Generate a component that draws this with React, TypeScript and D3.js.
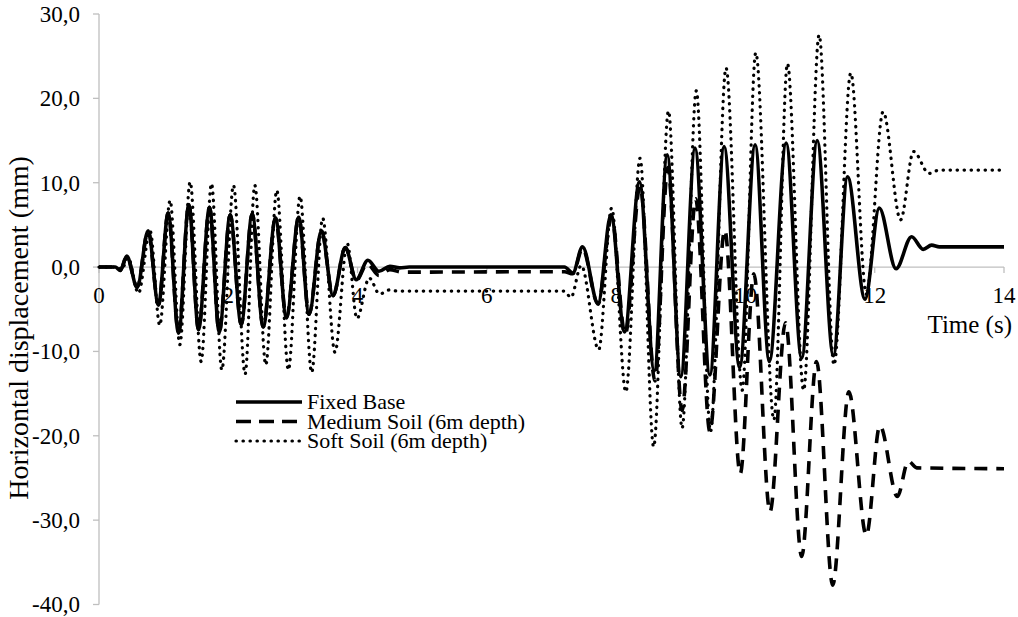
import React from "react";
import * as d3 from "d3";

// Time histories: [time (s), horizontal displacement (mm)] at turning points
const fixedBase: [number, number][] = [
  [0, 0], [0.25, 0], [0.33, -0.4], [0.43, 1.3], [0.59, -2.4], [0.76, 4.3], [0.92, -4.5],
  [1.07, 6.4], [1.23, -7.8], [1.39, 7.4], [1.54, -7.4], [1.71, 7.1], [1.86, -7.7],
  [2.03, 6.2], [2.2, -6.8], [2.37, 6.3], [2.54, -7.1], [2.73, 5.8], [2.9, -6.0],
  [3.09, 5.9], [3.25, -5.6], [3.44, 4.3], [3.62, -3.4], [3.81, 2.3], [3.98, -1.5],
  [4.16, 0.8], [4.33, -0.5], [4.5, 0.1], [4.65, -0.1], [4.8, 0], [7.2, 0],
  [7.33, -0.7], [7.48, 2.4], [7.72, -4.3], [7.92, 6.2], [8.13, -7.7], [8.36, 10.1],
  [8.59, -12.3], [8.79, 13.3], [9.0, -13.0], [9.22, 14.1], [9.45, -12.8], [9.67, 14.3],
  [9.91, -11.9], [10.15, 14.5], [10.37, -11.2], [10.63, 14.7], [10.87, -10.8],
  [11.11, 15.0], [11.36, -10.5], [11.58, 10.7], [11.85, -3.8], [12.07, 7.0],
  [12.33, -0.2], [12.57, 3.6], [12.75, 2.1], [12.88, 2.6], [13.0, 2.4], [14, 2.4],
];

const mediumSoil: [number, number][] = [
  [0, 0], [0.25, 0], [0.33, -0.4], [0.43, 1.3], [0.59, -2.4], [0.76, 4.3], [0.92, -4.5],
  [1.07, 6.4], [1.23, -7.8], [1.39, 7.4], [1.54, -7.4], [1.71, 7.1], [1.86, -7.7],
  [2.03, 6.2], [2.2, -6.8], [2.37, 6.3], [2.54, -7.1], [2.73, 5.8], [2.9, -6.0],
  [3.09, 5.9], [3.25, -5.6], [3.44, 4.3], [3.62, -3.4], [3.81, 2.3], [3.98, -1.6],
  [4.15, 0.4], [4.33, -1.0], [4.5, -0.3], [4.68, -0.6], [7.2, -0.55],
  [7.33, -0.8], [7.48, 2.2], [7.72, -4.4], [7.93, 5.9], [8.14, -8.0], [8.37, 9.6],
  [8.6, -13.5], [8.8, 11.8], [9.02, -17.0], [9.23, 8.1], [9.45, -19.5], [9.68, 4.4],
  [9.92, -24.5], [10.13, -0.8], [10.38, -29.0], [10.62, -6.6], [10.87, -34.3],
  [11.1, -11.2], [11.35, -37.7], [11.6, -14.8], [11.87, -31.8], [12.08, -18.8],
  [12.35, -27.2], [12.52, -23.0], [12.65, -23.8], [14, -23.9],
];

const softSoil: [number, number][] = [
  [0, 0], [0.27, 0], [0.35, -0.3], [0.45, 1.1], [0.61, -3.1], [0.79, 4.3], [0.94, -6.9],
  [1.1, 7.9], [1.25, -9.2], [1.41, 10.1], [1.58, -11.2], [1.74, 9.9], [1.9, -12.2],
  [2.08, 9.7], [2.26, -12.7], [2.41, 9.7], [2.58, -11.6], [2.75, 9.1], [2.93, -12.2],
  [3.11, 8.4], [3.29, -12.5], [3.46, 5.8], [3.65, -10.1], [3.84, 2.8], [3.99, -6.1],
  [4.18, -1.3], [4.34, -3.2], [4.5, -2.7], [4.62, -2.85], [7.2, -2.85],
  [7.3, -3.6], [7.46, 0.2], [7.73, -9.8], [7.93, 7.0], [8.15, -14.8], [8.37, 12.9],
  [8.58, -21.3], [8.81, 18.5], [9.02, -19.1], [9.24, 20.9], [9.46, -19.5], [9.7, 23.6],
  [9.95, -14.6], [10.16, 25.4], [10.44, -18.1], [10.65, 24.1], [10.9, -14.6],
  [11.14, 27.5], [11.37, -11.6], [11.63, 23.0], [11.87, -3.2], [12.13, 18.4],
  [12.4, 5.6], [12.6, 13.7], [12.84, 11.1], [13.0, 11.5], [14, 11.5],
];

const seriesNames = ["Fixed Base", "Medium Soil (6m depth)", "Soft Soil (6m depth)"];
const xTicks = [0, 2, 4, 6, 8, 10, 12, 14];
const yTicks = [30, 20, 10, 0, -10, -20, -30, -40];

const W = 1018;
const H = 617;
const FONT = "'Liberation Serif', 'Times New Roman', serif";

export default function App() {
  const x = d3.scaleLinear().domain([0, 14]).range([99, 1004]);
  const y = d3.scaleLinear().domain([-40, 30]).range([604.5, 14]);
  const line = d3
    .line<[number, number]>()
    .x((d) => x(d[0]))
    .y((d) => y(d[1]))
    .curve(d3.curveMonotoneX);

  const styles = [
    { width: 3.6, dash: undefined as string | undefined, cap: "butt" },
    { width: 3.6, dash: "13 9", cap: "butt" },
    { width: 3.2, dash: "0.4 6.6", cap: "round" },
  ];
  const data = [fixedBase, mediumSoil, softSoil];
  const axisColor = "#bfbfbf";
  const y0 = y(0);

  return (
    <svg
      width={W}
      height={H}
      style={{ position: "absolute", left: 0, top: 0, display: "block", background: "#fff" }}
      fontFamily={FONT}
    >
      <rect width={W} height={H} fill="#fff" />
      {/* y axis */}
      <line x1={x(0)} x2={x(0)} y1={y(30)} y2={y(-40)} stroke={axisColor} strokeWidth={1.3} />
      {yTicks.map((t) => (
        <g key={"y" + t}>
          <line x1={x(0) - 6} x2={x(0)} y1={y(t)} y2={y(t)} stroke={axisColor} strokeWidth={1.3} />
          <text x={80} y={y(t)} dy="0.34em" textAnchor="end" fontSize={23} fill="#000">
            {d3.format(".1f")(t).replace(".", ",").replace("−", "-")}
          </text>
        </g>
      ))}
      {/* x axis at zero displacement */}
      <line x1={x(0)} x2={x(14)} y1={y0} y2={y0} stroke={axisColor} strokeWidth={1.3} />
      {xTicks.map((t) => (
        <g key={"x" + t}>
          <line x1={x(t)} x2={x(t)} y1={y0} y2={y0 + 6} stroke={axisColor} strokeWidth={1.3} />
          <text x={x(t)} y={y0 + 28} dy="0.34em" textAnchor="middle" fontSize={23} fill="#000">
            {t}
          </text>
        </g>
      ))}
      {/* axis titles */}
      <text x={1012} y={333} textAnchor="end" fontSize={25} fill="#000">
        Time (s)
      </text>
      <text
        transform={`translate(28, ${328}) rotate(-90)`}
        textAnchor="middle"
        fontSize={28}
        fill="#000"
      >
        Horizontal displacement (mm)
      </text>
      {/* series */}
      {data.map((d, i) => (
        <path
          key={"s" + i}
          d={line(d) ?? ""}
          fill="none"
          stroke="#000"
          strokeWidth={styles[i].width}
          strokeDasharray={styles[i].dash}
          strokeLinecap={styles[i].cap as any}
          strokeLinejoin="round"
        />
      ))}
      {/* legend */}
      {seriesNames.map((name, i) => {
        const ly = 402 + i * 19.5;
        return (
          <g key={"l" + i}>
            <line
              x1={236}
              x2={302}
              y1={ly}
              y2={ly}
              stroke="#000"
              strokeWidth={styles[i].width}
              strokeDasharray={i === 1 ? "15 8" : styles[i].dash}
              strokeLinecap={styles[i].cap as any}
            />
            <text x={307} y={ly} dy="0.34em" fontSize={22} fill="#000">
              {name}
            </text>
          </g>
        );
      })}
    </svg>
  );
}
